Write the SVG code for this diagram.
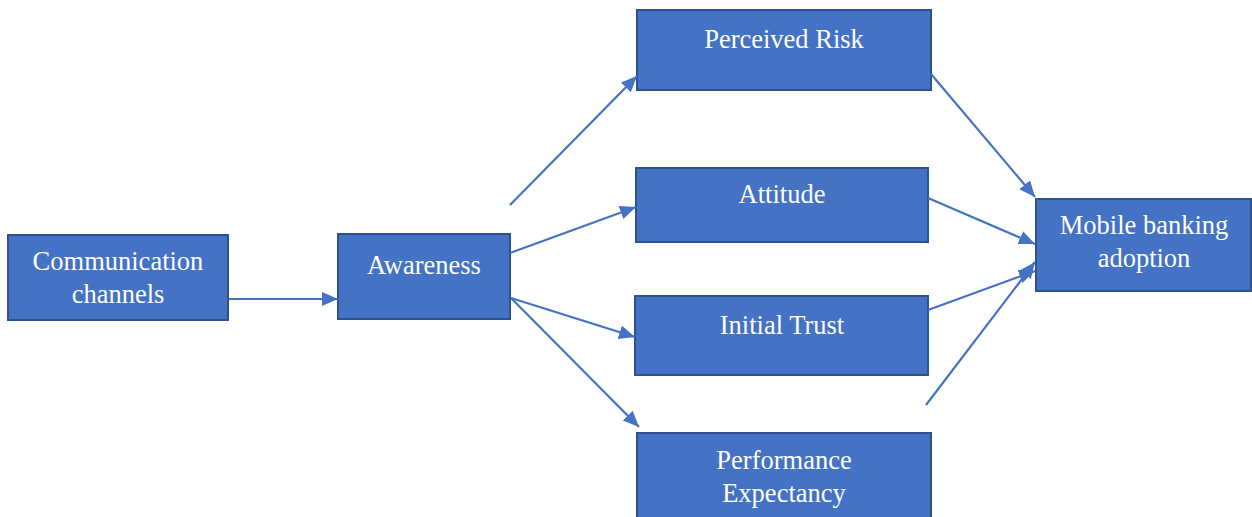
<svg xmlns="http://www.w3.org/2000/svg" width="1252" height="517" viewBox="0 0 1252 517">
  <style>
    .box { fill: #4472C4; stroke: #2F528F; stroke-width: 2; }
    .label { font-family: "Liberation Serif", "Times New Roman", serif; font-size: 26.5px; fill: #FFFFFF; text-anchor: middle; }
    .link { stroke: #4472C4; stroke-width: 2.2; fill: none; marker-end: url(#arrow); }
  </style>
  <defs>
    <marker id="arrow" markerUnits="userSpaceOnUse" markerWidth="17" markerHeight="15" refX="16" refY="7" orient="auto">
      <path d="M0,0 L16,7 L0,14 z" fill="#4472C4"/>
    </marker>
  </defs>
  <rect width="1252" height="517" fill="#FFFFFF"/>

  <g id="communication-channels">
    <rect class="box" x="8" y="235" width="220" height="85"/>
    <text class="label" x="118" y="270">Communication</text>
    <text class="label" x="118" y="303">channels</text>
  </g>

  <g id="awareness">
    <rect class="box" x="338" y="234" width="172" height="85"/>
    <text class="label" x="424" y="274">Awareness</text>
  </g>

  <g id="perceived-risk">
    <rect class="box" x="637" y="10" width="294" height="80"/>
    <text class="label" x="784" y="48">Perceived Risk</text>
  </g>

  <g id="attitude">
    <rect class="box" x="636" y="168" width="292" height="74"/>
    <text class="label" x="782" y="203">Attitude</text>
  </g>

  <g id="initial-trust">
    <rect class="box" x="635" y="296" width="293" height="79"/>
    <text class="label" x="782" y="334">Initial Trust</text>
  </g>

  <g id="performance-expectancy">
    <rect class="box" x="637" y="433" width="294" height="90"/>
    <text class="label" x="784" y="469">Performance</text>
    <text class="label" x="784" y="502">Expectancy</text>
  </g>

  <g id="mobile-banking-adoption">
    <rect class="box" x="1036" y="199" width="215" height="92"/>
    <text class="label" x="1144" y="234">Mobile banking</text>
    <text class="label" x="1144" y="267">adoption</text>
  </g>

  <g id="connectors">
    <line class="link" x1="229" y1="299" x2="338" y2="299"/>
    <line class="link" x1="510" y1="205" x2="637" y2="76"/>
    <line class="link" x1="510" y1="253" x2="636" y2="207"/>
    <line class="link" x1="511" y1="298" x2="635" y2="337"/>
    <line class="link" x1="511" y1="298" x2="639" y2="427"/>
    <line class="link" x1="931" y1="74" x2="1035" y2="197"/>
    <line class="link" x1="928" y1="198" x2="1035" y2="244"/>
    <line class="link" x1="928" y1="310" x2="1035" y2="271"/>
    <line class="link" x1="926" y1="405" x2="1035" y2="262"/>
  </g>
</svg>
